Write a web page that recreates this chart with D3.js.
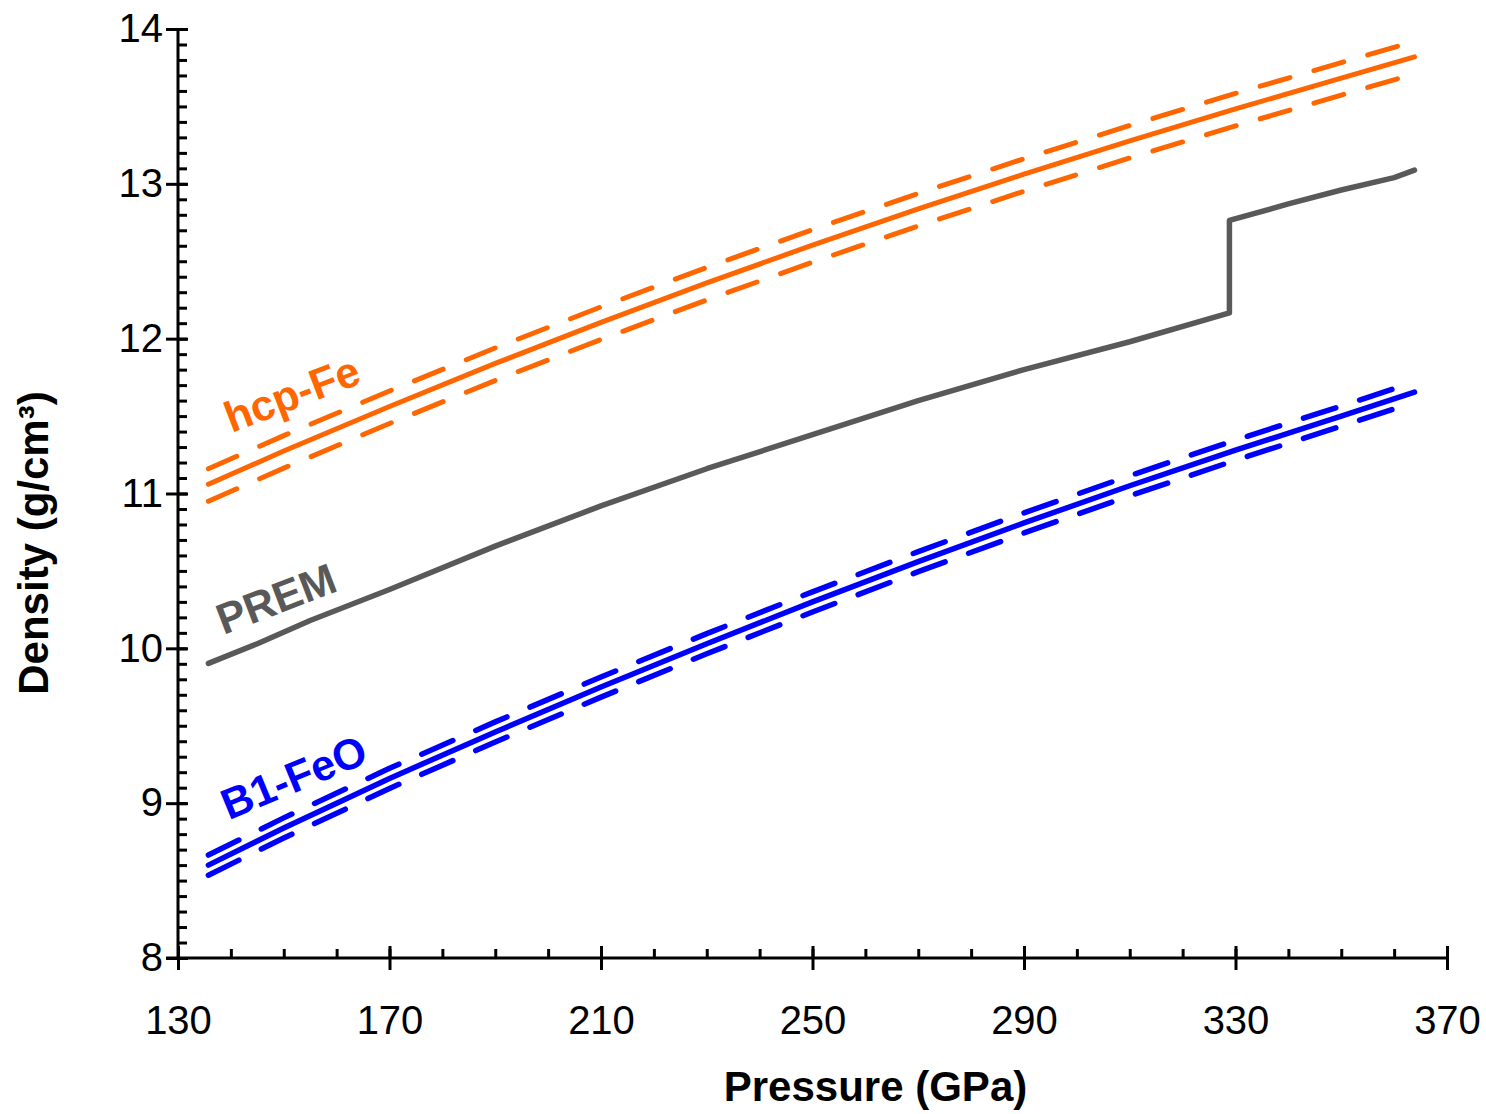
<!DOCTYPE html>
<html>
<head>
<meta charset="utf-8">
<script src="https://cdn.jsdelivr.net/npm/d3@7"></script>
<style>
  body { margin: 0; background: #fff; }
  text { font-family: "Liberation Sans", Arial, sans-serif; }
</style>
</head>
<body>
<div id="chart"></div>
<script>
// pressures (GPa) shared by the calculated curves
var pressures = [135.75, 150, 170, 190, 210, 230, 250, 270, 290, 310, 330, 350, 363.85];

// hcp-Fe density and its bounds
var hcpFe = [11.06, 11.274, 11.562, 11.84, 12.105, 12.36, 12.604, 12.838, 13.062, 13.277, 13.484, 13.683, 13.82];
var hcpFeUpper = [11.16, 11.374, 11.662, 11.94, 12.205, 12.46, 12.704, 12.938, 13.162, 13.377, 13.584, 13.783, 13.92];
var hcpFeLower = [10.95, 11.164, 11.452, 11.73, 11.995, 12.25, 12.494, 12.728, 12.952, 13.167, 13.374, 13.573, 13.71];

// B1-FeO density and its bounds
var b1FeO = [8.60, 8.84, 9.16, 9.46, 9.75, 10.03, 10.30, 10.56, 10.81, 11.05, 11.28, 11.50, 11.655];
var b1FeOUpper = [8.665, 8.905, 9.225, 9.525, 9.815, 10.095, 10.365, 10.625, 10.875, 11.115, 11.345, 11.565, 11.72];
var b1FeOLower = [8.535, 8.775, 9.095, 9.395, 9.685, 9.965, 10.235, 10.495, 10.745, 10.985, 11.215, 11.435, 11.59];

// PREM
var premP = [135.75, 145, 155, 170, 190, 210, 230, 250, 270, 290, 310, 328.85, 328.85, 340, 350, 360, 363.85];
var premRho = [9.903, 10.03, 10.18, 10.38, 10.66, 10.92, 11.16, 11.38, 11.60, 11.80, 11.98, 12.166, 12.764, 12.87, 12.96, 13.04, 13.088];

var xTicks = [130, 170, 210, 250, 290, 330, 370];
var yTicks = [8, 9, 10, 11, 12, 13, 14];

var width = 1486, height = 1114;
var margin = {left: 178, right: 39, top: 29, bottom: 156};

var svg = d3.select("#chart")
    .append("svg")
    .attr("width", width)
    .attr("height", height);

var x = d3.scaleLinear().domain([130, 370]).range([margin.left, width - margin.right]);
var y = d3.scaleLinear().domain([8, 14]).range([height - margin.bottom, margin.top]);

function zip(xs, ys) {
    return xs.map(function(p, i) { return [p, ys[i]]; });
}

var line = d3.line()
    .x(function(d) { return x(d[0]); })
    .y(function(d) { return y(d[1]); });

var series = [
    {data: zip(pressures, hcpFeUpper), color: "#ff6600", dash: "31,25", w: 5},
    {data: zip(pressures, hcpFe), color: "#ff6600", dash: null, w: 5},
    {data: zip(pressures, hcpFeLower), color: "#ff6600", dash: "31,25", w: 5},
    {data: zip(pressures, b1FeOUpper), color: "#0000ff", dash: "34,25", w: 5.5},
    {data: zip(pressures, b1FeO), color: "#0000ff", dash: null, w: 5.5},
    {data: zip(pressures, b1FeOLower), color: "#0000ff", dash: "34,25", w: 5.5},
    {data: zip(premP, premRho), color: "#595959", dash: null, w: 5.5}
];

svg.selectAll("path.series")
    .data(series)
    .enter()
    .append("path")
    .attr("class", "series")
    .attr("d", function(s) { return line(s.data); })
    .attr("fill", "none")
    .attr("stroke", function(s) { return s.color; })
    .attr("stroke-width", function(s) { return s.w; })
    .attr("stroke-linecap", "round")
    .attr("stroke-linejoin", "round")
    .attr("stroke-dasharray", function(s) { return s.dash; });

// axes
var yMinor = d3.range(80, 141).map(function(v) { return v / 10; });
var xMinor = d3.range(130, 371, 10);

function styleAxis(g) {
    g.selectAll("path.domain").remove();
    g.selectAll("line").attr("stroke", "#000").attr("stroke-width", 3);
}

svg.append("g")
    .attr("transform", "translate(" + margin.left + ",0)")
    .call(d3.axisLeft(y).tickValues(yMinor).tickSize(-9).tickFormat(""))
    .call(styleAxis);
svg.append("g")
    .attr("transform", "translate(" + margin.left + ",0)")
    .call(d3.axisLeft(y).tickValues(yTicks).tickSize(-10).tickFormat(""))
    .call(styleAxis);
svg.append("g")
    .attr("transform", "translate(" + margin.left + ",0)")
    .call(d3.axisLeft(y).tickValues(yTicks).tickSize(12).tickPadding(3).tickFormat(d3.format("d")))
    .call(styleAxis)
    .selectAll("text")
    .attr("font-size", 40)
    .attr("fill", "#000")
    .attr("font-family", "Liberation Sans, Arial, sans-serif");

var yBase = height - margin.bottom;
svg.append("g")
    .attr("transform", "translate(0," + yBase + ")")
    .call(d3.axisBottom(x).tickValues(xMinor).tickSize(-9).tickFormat(""))
    .call(styleAxis);
svg.append("g")
    .attr("transform", "translate(0," + yBase + ")")
    .call(d3.axisBottom(x).tickValues(xTicks).tickSize(-12).tickFormat(""))
    .call(styleAxis);
svg.append("g")
    .attr("transform", "translate(0," + yBase + ")")
    .call(d3.axisBottom(x).tickValues(xTicks).tickSize(12).tickPadding(36).tickFormat(d3.format("d")))
    .call(styleAxis)
    .selectAll("text")
    .attr("font-size", 40)
    .attr("fill", "#000")
    .attr("font-family", "Liberation Sans, Arial, sans-serif");

// axis lines
svg.append("line")
    .attr("x1", margin.left).attr("x2", margin.left)
    .attr("y1", margin.top).attr("y2", yBase)
    .attr("stroke", "#000").attr("stroke-width", 3);
svg.append("line")
    .attr("x1", margin.left - 12).attr("x2", width - margin.right + 1.5)
    .attr("y1", yBase).attr("y2", yBase)
    .attr("stroke", "#000").attr("stroke-width", 3);

// axis titles
svg.append("text")
    .attr("x", x(250) + 63)
    .attr("y", 1101)
    .attr("text-anchor", "middle")
    .attr("font-size", 42)
    .attr("font-weight", "bold")
    .text("Pressure (GPa)");

svg.append("text")
    .attr("transform", "translate(48," + y(10.68) + ") rotate(-90)")
    .attr("text-anchor", "middle")
    .attr("font-size", 42)
    .attr("font-weight", "bold")
    .text("Density (g/cm³)");

// curve labels
var labels = [
    {text: "hcp-Fe", p: 140.1, rho: 11.39, color: "#ff6600", angle: -21},
    {text: "PREM", p: 138.6, rho: 10.086, color: "#595959", angle: -21},
    {text: "B1-FeO", p: 139.6, rho: 8.89, color: "#0000ff", angle: -22.5}
];

svg.selectAll("text.curve-label")
    .data(labels)
    .enter()
    .append("text")
    .attr("class", "curve-label")
    .attr("transform", function(d) {
        return "translate(" + x(d.p) + "," + y(d.rho) + ") rotate(" + d.angle + ")";
    })
    .attr("font-size", 43)
    .attr("font-weight", "bold")
    .attr("fill", function(d) { return d.color; })
    .text(function(d) { return d.text; });
</script>
</body>
</html>
